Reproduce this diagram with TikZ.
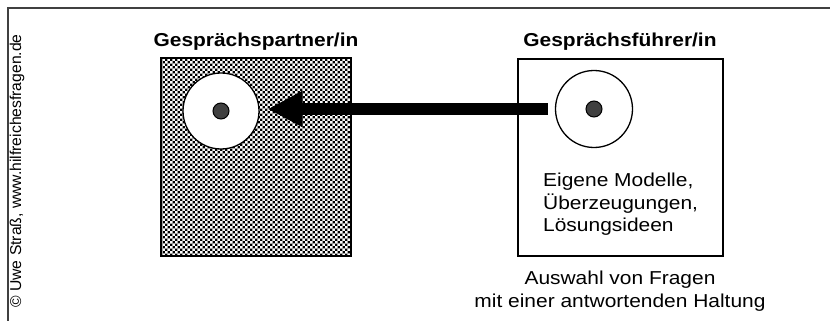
\documentclass[tikz,border=0pt]{standalone}
\usepackage{fontspec}
\setmainfont[FakeStretch=1.12]{Liberation Sans}
\newfontfamily\creditfont{Liberation Sans}
\usepackage{tikz}
\usetikzlibrary{arrows.meta,patterns}
\pgfdeclarepatternformonly{stipple}{\pgfqpoint{-0.5pt}{-0.5pt}}{\pgfqpoint{5.5pt}{5.5pt}}{\pgfqpoint{5pt}{5pt}}{%
	\pgfpathrectangle{\pgfqpoint{0pt}{0pt}}{\pgfqpoint{2.4pt}{2.4pt}}%
	\pgfpathrectangle{\pgfqpoint{2.5pt}{2.5pt}}{\pgfqpoint{2.4pt}{2.4pt}}%
	\pgfusepath{fill}}

\begin{document}
\begin{tikzpicture}[
		x=1pt, y=-1pt,
		titel/.style={
			font=\fontsize{18.7}{22.5}\selectfont\bfseries,
			anchor=base,
			inner sep=0pt
		},
		body/.style={
			font=\fontsize{18.7}{22.5}\selectfont,
			inner sep=0pt
		},
		kasten/.style={
			draw=black,
			line width=1.4pt,
			inner sep=0pt
		},
		ring/.style={
			circle,
			draw=black,
			line width=1.3pt,
			fill=white,
			inner sep=0pt
		},
		kern/.style={
			circle,
			draw=black,
			line width=1pt,
			fill=black!75,
			minimum size=16pt,
			inner sep=0pt
		},
		pfeil/.style={
			-{Triangle[width=34pt,length=35pt]},
			line width=12pt,
			draw=black
		},
		rahmen/.style={
			draw=black!75,
			line width=1.5pt
		}
	]
	\useasboundingbox (0,0) rectangle (830,321);
	
	% Frame and credit
	\draw[rahmen] (8,321) -- (8,8) -- (830,8);
	\node[rotate=90, inner sep=0pt, font=\creditfont\fontsize{15.7}{18}\selectfont] (credit) at (17,171) {© Uwe Straß, www.hilfreichesfragen.de};
	
	% Titles
	\node[titel] (partner) at (256,47) {Gesprächspartner/in};
	\node[titel] (fuehrer) at (620,47) {Gesprächsführer/in};
	
	% Boxes
	\node[kasten, pattern=stipple, minimum width=190pt, minimum height=198pt] (pbox) at (256,157) {};
	\node[kasten, line width=1.2pt, minimum width=205pt, minimum height=197pt] (fbox) at (620.5,157.5) {};
	
	% Circles with centres
	\node[ring, minimum size=76pt] (pring) at (221,111) {};
	\node[kern] (pdot) at (pring) {};
	\node[ring, minimum size=77pt] (fring) at (594,109) {};
	\node[kern] (fdot) at (fring) {};
	
	% Arrow
	\draw[pfeil, shorten <=7pt, shorten >=8pt] (fring.west) -- (fring.west -| pring.east);
	
	% Texts
	\node[body, anchor=north west, align=left] (modelle) at (543,173) {Eigene Modelle,\\Überzeugungen,\\Lösungsideen};
	\node[body, anchor=north, align=center] (fragen) at (620,271) {Auswahl von Fragen\\mit einer antwortenden Haltung};
	
\end{tikzpicture}
\end{document}
